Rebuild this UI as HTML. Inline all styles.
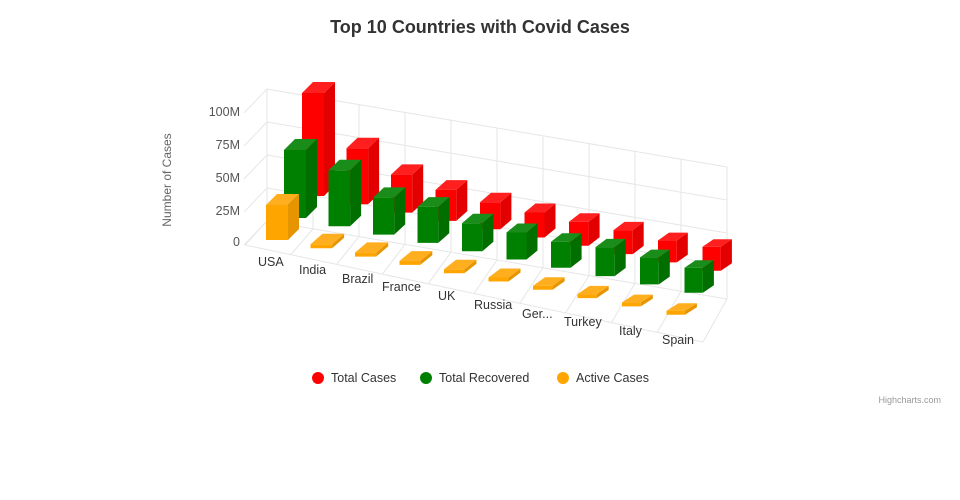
<!DOCTYPE html>
<html><head><meta charset="utf-8"><style>
html,body{margin:0;padding:0;background:#fff}
svg{display:block;font-family:"Liberation Sans",sans-serif}
</style></head><body>
<svg id="c" width="960" height="500" viewBox="0 0 960 500">
<rect width="960" height="500" fill="#fff"/>
<text x="480" y="33" text-anchor="middle" font-size="18" font-weight="bold" fill="#333">Top 10 Countries with Covid Cases</text>
<g id="grid" stroke="#e6e6e6" stroke-width="1" fill="none"></g>
<g id="bars"></g>
<g font-size="12.5" fill="#555" text-anchor="end">
<text x="240" y="116">100M</text>
<text x="240" y="149">75M</text>
<text x="240" y="182">50M</text>
<text x="240" y="215">25M</text>
<text x="240" y="246">0</text>
</g>
<text transform="translate(171,180) rotate(-90)" text-anchor="middle" font-size="12" fill="#666">Number of Cases</text>
<g font-size="12.5" fill="#333">
<text x="258" y="266">USA</text>
<text x="299" y="274">India</text>
<text x="342" y="283">Brazil</text>
<text x="382" y="291">France</text>
<text x="438" y="300">UK</text>
<text x="474" y="309">Russia</text>
<text x="522" y="318">Ger...</text>
<text x="564" y="326">Turkey</text>
<text x="619" y="335">Italy</text>
<text x="662" y="344">Spain</text>
</g>
<g font-size="12.5" fill="#333">
<circle cx="318" cy="378" r="6" fill="#ff0000"/><text x="331" y="382">Total Cases</text>
<circle cx="426" cy="378" r="6" fill="#008000"/><text x="439" y="382">Total Recovered</text>
<circle cx="563" cy="378" r="6" fill="#ffa500"/><text x="576" y="382">Active Cases</text>
</g>
<text x="941" y="403" text-anchor="end" font-size="9" fill="#999">Highcharts.com</text>
</svg>
<script>
(function(){
var NS="http://www.w3.org/2000/svg";
function el(p,t,a){var e=document.createElementNS(NS,t);for(var k in a)e.setAttribute(k,a[k]);p.appendChild(e);return e;}
var g=document.getElementById('grid');
var bl=[89,122,155,188,221], br=[167,200,233,266,299], fl=[113,146,179,212,245];
for(var i=0;i<5;i++){
 el(g,'line',{x1:267,y1:bl[i],x2:727,y2:br[i]});
 el(g,'line',{x1:244,y1:fl[i],x2:267,y2:bl[i]});
}
for(var j=0;j<=10;j++){
 var x=267+46*j, yt=89+7.8*j, yb=221+7.8*j;
 el(g,'line',{x1:x,y1:yt,x2:x,y2:yb});
 var fx=245+45.8*j, fy=245+9.7*j;
 el(g,'line',{x1:fx,y1:fy,x2:x,y2:yb});
}
el(g,'line',{x1:245,y1:245,x2:703,y2:342});
var b=document.getElementById('bars');
var H=[[103,56,38,31,27,25,24,24,22,24],[68,56,37,36,28,27,26,29,27,25],[35,4,4,4,4,4,4,4,4,4]];
var C=[["#ff0000","#e30000","#ff1f1f"],["#008000","#006f00","#1a8c1a"],["#ffa500","#e69500","#ffae1f"]];
for(var s=0;s<3;s++){
 for(var i=9;i>=0;i--){
  var k=2-s;
  var x=266+44.5*i+18*k, y=240+8.3*i-22*k, w=22-0.4*i, h=H[s][i];
  var dx=11, dy=-11+0.4*i;
  if(s==2&&i>0){dx=12;}
  var t=y-h;
  el(b,'polygon',{points:[x+w,y, x+w+dx,y+dy, x+w+dx,t+dy, x+w,t].join(' '),fill:C[s][1]});
  el(b,'polygon',{points:[x,t, x+w,t, x+w+dx,t+dy, x+dx,t+dy].join(' '),fill:C[s][2]});
  el(b,'polygon',{points:[x,y, x+w,y, x+w,t, x,t].join(' '),fill:C[s][0]});
 }
}
})();
</script>
</body></html>
